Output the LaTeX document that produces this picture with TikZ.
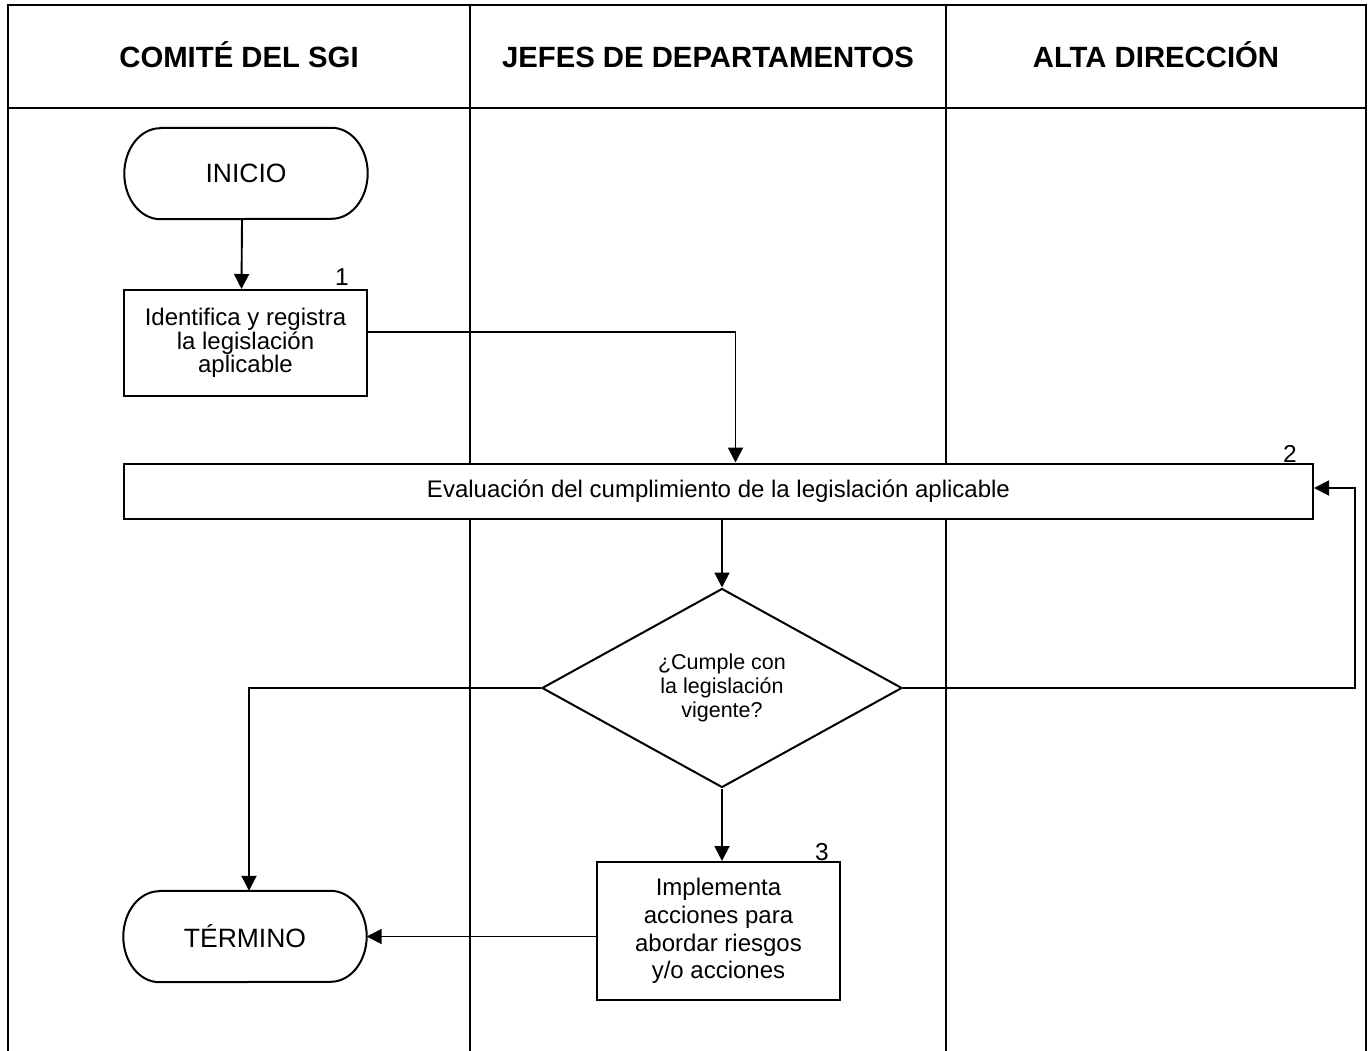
\documentclass[tikz,border=0pt]{standalone}
\usepackage{fontspec}
\setmainfont{Liberation Sans}
\usetikzlibrary{arrows.meta,shapes.geometric}
\begin{document}
\begin{tikzpicture}[x=1pt,y=-1pt,
  tbl/.style={line width=2.6pt},
  hdr/.style={font=\fontsize{29.3}{34}\selectfont\bfseries, anchor=base},
  proc/.style={draw, fill=white, line width=2pt, align=center, inner sep=0pt},
  termtext/.style={minimum width=243pt, minimum height=91pt, inner sep=0pt, font=\fontsize{26.5}{30}\selectfont},
  termline/.style={draw, fill=white, line width=2pt},
  num/.style={font=\fontsize{24.5}{28}\selectfont, inner sep=0pt},
  arr/.style={line width=1.9pt, -{Triangle[length=15pt,width=15pt]}},
  conn/.style={line width=1.9pt}
]
\useasboundingbox (0,0) rectangle (1369,1051);
\fill[white] (0,0) rectangle (1369,1051);

% swimlane table
\draw[tbl] (8,1051) -- (8,5) -- (1366,5) -- (1366,1051);
\draw[tbl] (8,108) -- (1366,108);
\draw[tbl] (470,5) -- (470,1051);
\draw[tbl] (946,5) -- (946,1051);

\node[hdr] (h1) at (239,68) {COMITÉ DEL SGI};
\node[hdr] (h2) at (708,68) {JEFES DE DEPARTAMENTOS};
\node[hdr] (h3) at (1156,68) {ALTA DIRECCIÓN};

% INICIO terminator
\node[termtext] (ini) at (246,173.5) {};
\draw[termline] ([xshift=36pt]ini.north west) -- ([xshift=-36pt]ini.north east)
  arc[start angle=90,end angle=-90,x radius=36pt,y radius=45.5pt]
  -- ([xshift=36pt]ini.south west)
  arc[start angle=270,end angle=90,x radius=36pt,y radius=45.5pt] -- cycle;
\node[termtext] at (ini.center) {INICIO};

% Step 1
\node[proc, minimum width=243pt, minimum height=106pt,
  font=\fontsize{24}{23.5}\selectfont] (s1) at (245.5,343)
  {Identifica y registra\\la legislación\\aplicable};
\node[num] (n1) at (342,277) {1};

% Step 2
\node[proc, minimum width=1189pt, minimum height=55pt,
  font=\fontsize{24}{28}\selectfont] (s2) at (718.5,491)
  {Evaluación del cumplimiento de la legislación aplicable};
\node[num] (n2) at (1290,454) {2};

% Decision
\node[draw, fill=white, diamond, line width=2pt, minimum width=360pt, minimum height=199pt,
  inner sep=0pt, align=center, font=\fontsize{21.5}{24}\selectfont] (dec) at (722,688)
  {¿Cumple con\\la legislación\\vigente?};

% Step 3
\node[proc, minimum width=243pt, minimum height=138pt,
  font=\fontsize{24}{27.6}\selectfont] (s3) at (718.5,931)
  {Implementa\\acciones para\\abordar riesgos\\y/o acciones};
\node[num] (n3) at (822,852) {3};

% TÉRMINO terminator
\node[termtext] (fin) at (245,936.5) {};
\draw[termline] ([xshift=36pt]fin.north west) -- ([xshift=-36pt]fin.north east)
  arc[start angle=90,end angle=-90,x radius=36pt,y radius=45.5pt]
  -- ([xshift=36pt]fin.south west)
  arc[start angle=270,end angle=90,x radius=36pt,y radius=45.5pt] -- cycle;
\node[termtext] at (fin.center) {TÉRMINO};

% connectors
\draw[arr] ([xshift=-4pt]ini.south) -- ([xshift=-4pt]s1.north);
\draw[arr] ([yshift=11pt]s1.east) -| ([xshift=17pt]s2.north);
\draw[arr] (s2.south -| dec.north) -- (dec.north);
\coordinate (fb) at (1355,688);
\draw[arr] (dec.east) -- (fb) |- ([yshift=3pt]s2.east);
\draw[arr] (dec.west) -| ([xshift=4pt]fin.north);
\draw[arr] (dec.south) -- (dec.south |- s3.north);
\draw[arr] (s3.west |- fin.east) -- (fin.east);
\end{tikzpicture}
\end{document}
